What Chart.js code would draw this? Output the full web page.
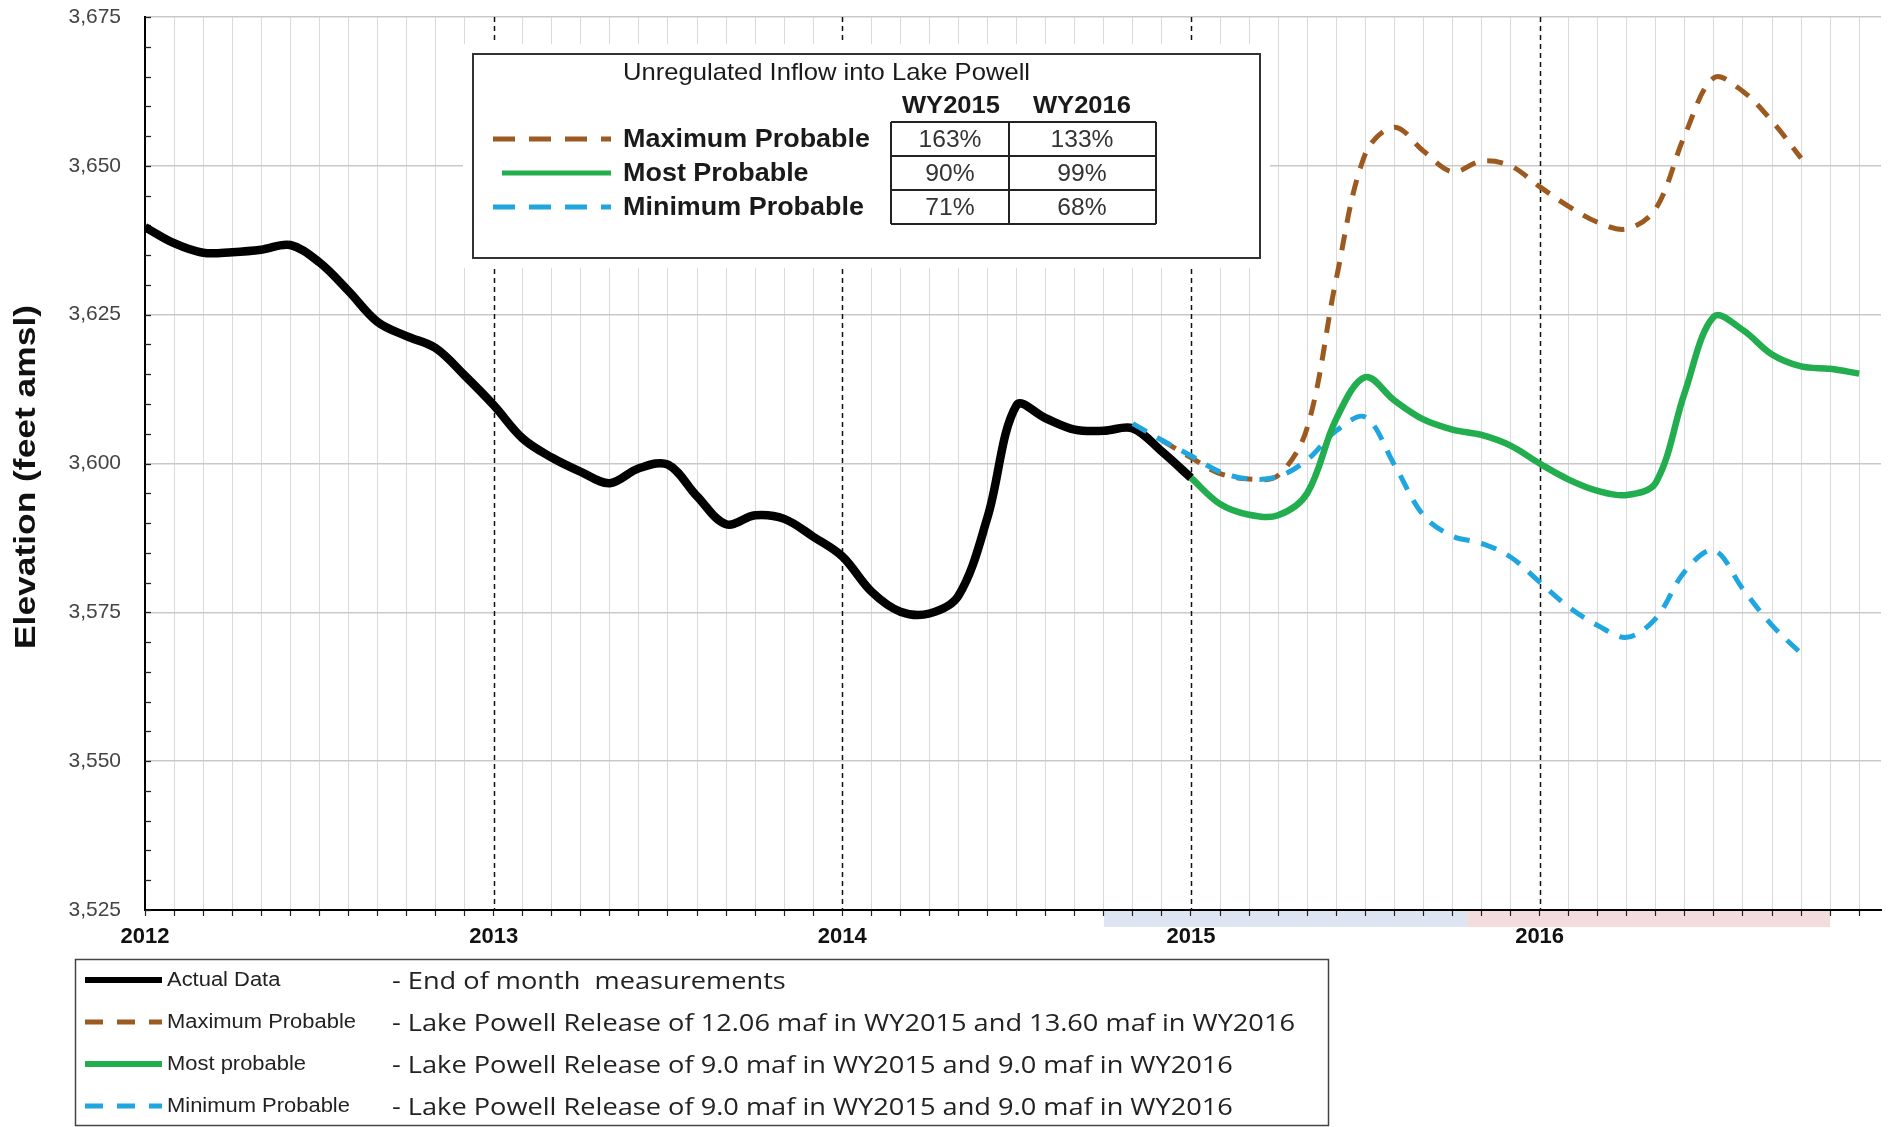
<!DOCTYPE html>
<html>
<head>
<meta charset="utf-8">
<title>Lake Powell End of Month Elevations</title>
<script src="https://cdn.jsdelivr.net/npm/chart.js@4.4.1/dist/chart.umd.min.js"></script>
<style>
    html, body { margin: 0; padding: 0; background: #fff; }
    #wrap { position: relative; width: 1894px; height: 1127px; }
</style>
</head>
<body>
<div id="wrap"><canvas id="elevationChart"></canvas></div>
<script>
/* ===================================
   LAKE POWELL ELEVATION CHART
   x values are months counted from Jan 2012
   =================================== */

// ===== DATA =====
const actualStart = 0;
const actualData = [
    3639.7, 3637.0, 3635.4, 3635.5, 3635.9, 3636.7, 3633.8, 3629.0, 3623.8, 3621.4, 3619.4, 3614.8,
    3609.8, 3604.2, 3601.0, 3598.6, 3596.7, 3599.2, 3599.8, 3594.5, 3589.8, 3591.3, 3590.7, 3587.7,
    3584.4, 3578.5, 3575.1, 3574.8, 3577.8, 3591.0, 3609.8, 3607.6, 3605.7, 3605.5, 3605.9, 3602.0,
    3597.6
];

const maxStart = 35;
const maxProbable = [
    3603.9, 3601.0, 3598.3, 3597.4, 3598.0, 3606.0, 3631.0, 3652.0, 3656.5, 3652.5, 3649.0, 3650.8,
    3650.0, 3646.5, 3643.2, 3640.5, 3639.4, 3642.8, 3655.2, 3664.8, 3662.5, 3657.5, 3651.3
];

const mostStart = 36;
const mostProbable = [
    3597.6, 3593.2, 3591.4, 3591.3, 3595.0, 3607.5, 3614.5, 3610.6, 3607.4, 3605.7, 3604.8, 3603.0,
    3600.0, 3597.3, 3595.4, 3594.7, 3596.8, 3612.0, 3624.7, 3622.4, 3618.3, 3616.3, 3615.9, 3615.1
];

const minStart = 34;
const minProbable = [
    3606.7, 3603.9, 3601.3, 3598.6, 3597.4, 3597.8, 3600.6, 3605.5, 3607.8, 3599.8, 3591.3, 3587.8,
    3586.6, 3584.3, 3580.1, 3575.9, 3572.8, 3570.8, 3574.0, 3581.9, 3585.4, 3578.9, 3572.8, 3568.1
];

const firstYear = 2012;
const yearMonths = [12, 24, 36, 48];          // dashed year lines
const waterYearFrom = [33, 45.5];             // WY2015, WY2016 bands under the axis
const waterYearTo = [45.5, 58];

const inflowTitle = 'Unregulated Inflow into Lake Powell';
const inflowHeaders = ['WY2015', 'WY2016'];
const inflowRows = ['Maximum Probable', 'Most Probable', 'Minimum Probable'];
const inflowWY2015 = ['163%', '90%', '71%'];
const inflowWY2016 = ['133%', '99%', '68%'];

const legendNames = ['Actual Data', 'Maximum Probable', 'Most probable', 'Minimum Probable'];
const legendNotes = [
    '- End of month  measurements',
    '- Lake Powell Release of 12.06 maf in WY2015 and 13.60 maf in WY2016',
    '- Lake Powell Release of 9.0 maf in WY2015 and 9.0 maf in WY2016',
    '- Lake Powell Release of 9.0 maf in WY2015 and 9.0 maf in WY2016'
];

// ===== STYLE =====
const COLORS = {
    actual: '#000000',
    max: '#9C5A20',
    most: '#22AD4E',
    min: '#1FA6DE',
    grid: '#c9c9c9',
    monthGrid: '#dadada'
};
const FONT = "'Liberation Sans', Arial, sans-serif";

function toPoints(start, values) {
    return values.map((v, i) => ({ x: start + i, y: v }));
}

// ===== TEXT HELPER (squeezes/stretches to the measured width) =====
function textScale(ctx, text, font, width) {
    ctx.save();
    ctx.font = font;
    const w = ctx.measureText(text).width;
    ctx.restore();
    return width / w;
}

function drawText(ctx, text, x, y, font, align, sx, color) {
    ctx.save();
    ctx.font = font;
    ctx.fillStyle = color || '#1a1a1a';
    ctx.textAlign = align;
    ctx.textBaseline = 'middle';
    ctx.translate(x, y);
    ctx.scale(sx || 1, 1);
    ctx.fillText(text, 0, 0);
    ctx.restore();
}

function sampleLine(ctx, x1, x2, y, color, width, dash) {
    ctx.save();
    ctx.strokeStyle = color;
    ctx.lineWidth = width;
    ctx.setLineDash(dash || []);
    ctx.beginPath();
    ctx.moveTo(x1, y);
    ctx.lineTo(x2, y);
    ctx.stroke();
    ctx.restore();
}

const rowStyles = [
    { color: COLORS.max, width: 5, dash: [22, 14] },
    { color: COLORS.most, width: 5, dash: [] },
    { color: COLORS.min, width: 5, dash: [22, 14] }
];

// ===== OVERLAY PLUGIN =====
const overlayPlugin = {
    id: 'overlay',
    beforeDraw(chart) {
        const ctx = chart.ctx;
        const x = chart.scales.x;
        const area = chart.chartArea;
        ctx.save();
        ctx.fillStyle = '#fff';
        ctx.fillRect(0, 0, chart.width, chart.height);
        // water year bands under the x axis
        const bandColors = ['#dce5f1', '#f2dcdc'];
        waterYearFrom.forEach((from, i) => {
            const x1 = x.getPixelForValue(from);
            const x2 = x.getPixelForValue(waterYearTo[i]);
            ctx.fillStyle = bandColors[i];
            ctx.fillRect(x1, area.bottom + 1, x2 - x1, 16);
        });
        ctx.restore();
    },
    beforeDatasetsDraw(chart) {
        const ctx = chart.ctx;
        const x = chart.scales.x;
        const y = chart.scales.y;
        const area = chart.chartArea;

        // dashed year lines
        ctx.save();
        ctx.strokeStyle = '#111';
        ctx.lineWidth = 1.5;
        ctx.setLineDash([5, 4]);
        yearMonths.forEach(m => {
            const px = Math.round(x.getPixelForValue(m)) + 0.5;
            ctx.beginPath();
            ctx.moveTo(px, area.top);
            ctx.lineTo(px, area.bottom);
            ctx.stroke();
        });
        ctx.restore();

        // minor y ticks inside the plot
        ctx.save();
        ctx.strokeStyle = '#222';
        ctx.lineWidth = 1.3;
        y.ticks.forEach(t => {
            const py = Math.round(y.getPixelForValue(t.value)) + 0.5;
            ctx.beginPath();
            ctx.moveTo(area.left, py);
            ctx.lineTo(area.left + 6, py);
            ctx.stroke();
        });
        ctx.restore();

        // inflow box
        ctx.save();
        ctx.fillStyle = '#fff';
        ctx.fillRect(463, 44, 807, 224);
        ctx.strokeStyle = '#333';
        ctx.lineWidth = 2;
        ctx.strokeRect(473, 54, 787, 204);

        drawText(ctx, inflowTitle, 623, 73, '24px ' + FONT, 'left',
            textScale(ctx, inflowTitle, '24px ' + FONT, 407));
        const hFont = 'bold 23px ' + FONT;
        const hScale = textScale(ctx, inflowHeaders[0], hFont, 98);
        drawText(ctx, inflowHeaders[0], 951, 107, hFont, 'center', hScale);
        drawText(ctx, inflowHeaders[1], 1082, 107, hFont, 'center', hScale);

        // table lines
        ctx.strokeStyle = '#222';
        ctx.lineWidth = 2;
        [891, 1009, 1156].forEach(px => {
            ctx.beginPath(); ctx.moveTo(px, 122); ctx.lineTo(px, 224); ctx.stroke();
        });
        [122, 156, 190, 224].forEach(py => {
            ctx.beginPath(); ctx.moveTo(891, py); ctx.lineTo(1156, py); ctx.stroke();
        });

        const lFont = 'bold 25px ' + FONT;
        const lScale = textScale(ctx, inflowRows[0], lFont, 247);
        const vFont = '24px ' + FONT;
        const vScale = textScale(ctx, inflowWY2015[0], vFont, 63);
        inflowRows.forEach((name, i) => {
            const py = 139 + 34 * i;
            const st = rowStyles[i];
            sampleLine(ctx, i === 1 ? 502 : 493, 611, py, st.color, st.width, st.dash);
            drawText(ctx, name, 623, py + 1, lFont, 'left', lScale);
            drawText(ctx, inflowWY2015[i], 950, py + 1, vFont, 'center', vScale, '#333');
            drawText(ctx, inflowWY2016[i], 1082, py + 1, vFont, 'center', vScale, '#333');
        });
        ctx.restore();
    },
    afterDraw(chart) {
        const ctx = chart.ctx;

        // y axis title
        const tFont = 'bold 29px ' + FONT;
        const title = 'Elevation (feet amsl)';
        ctx.save();
        ctx.translate(27, 477);
        ctx.rotate(-Math.PI / 2);
        drawText(ctx, title, 0, 0, tFont, 'center', textScale(ctx, title, tFont, 344), '#111');
        ctx.restore();

        // bottom legend
        ctx.save();
        ctx.strokeStyle = '#444';
        ctx.lineWidth = 1.5;
        ctx.strokeRect(75.5, 959.5, 1253, 166);
        const nFont = '20px ' + FONT;
        const nScale = textScale(ctx, legendNames[1], nFont, 189);
        const dFont = "24px 'Open Sans', 'Liberation Sans', sans-serif";
        const dScale = textScale(ctx, legendNotes[1], dFont, 903);
        const samples = [
            { color: COLORS.actual, width: 6, dash: [] },
            { color: COLORS.max, width: 5, dash: [18, 14] },
            { color: COLORS.most, width: 6, dash: [] },
            { color: COLORS.min, width: 5, dash: [18, 14] }
        ];
        legendNames.forEach((name, i) => {
            const py = 980 + 42 * i;
            const s = samples[i];
            sampleLine(ctx, 85, 162, py, s.color, s.width, s.dash);
            drawText(ctx, name, 167, py, nFont, 'left', nScale, '#222');
            drawText(ctx, legendNotes[i], 392, py + 2, dFont, 'left', dScale, '#222');
        });
        ctx.restore();
    }
};

// ===== CHART =====
const chart = new Chart(document.getElementById('elevationChart'), {
    type: 'line',
    data: {
        datasets: [
            {
                label: 'Most Probable',
                data: toPoints(mostStart, mostProbable),
                borderColor: COLORS.most,
                borderWidth: 6.5
            },
            {
                label: 'Minimum Probable',
                data: toPoints(minStart, minProbable),
                borderColor: COLORS.min,
                borderWidth: 5,
                borderDash: [16, 12]
            },
            {
                label: 'Maximum Probable',
                data: toPoints(maxStart, maxProbable),
                borderColor: COLORS.max,
                borderWidth: 5,
                borderDash: [16, 12]
            },
            {
                label: 'Actual Data',
                data: toPoints(actualStart, actualData),
                borderColor: COLORS.actual,
                borderWidth: 8.5
            }
        ]
    },
    options: {
        responsive: true,
        maintainAspectRatio: false,
        animation: false,
        layout: {
            padding: { top: 17, right: 13, bottom: 0, left: 0 }
        },
        elements: {
            point: { radius: 0 },
            line: { tension: 0.35, fill: false, borderJoinStyle: 'round' }
        },
        plugins: {
            legend: { display: false },
            tooltip: { enabled: false }
        },
        scales: {
            x: {
                type: 'linear',
                min: 0,
                max: 59.75,
                afterFit: function(scale) { scale.height = 217; },
                border: { display: true, color: '#000', width: 2 },
                grid: {
                    color: function(c) {
                        return c.tick && c.tick.value % 12 === 0 ? 'rgba(0,0,0,0)' : COLORS.monthGrid;
                    },
                    lineWidth: 1,
                    drawTicks: true,
                    tickLength: 6,
                    tickColor: '#222',
                    tickWidth: 1.2
                },
                ticks: {
                    stepSize: 1,
                    autoSkip: false,
                    maxRotation: 0,
                    includeBounds: false,
                    padding: 8,
                    color: '#111',
                    font: { family: FONT, size: 22, weight: 'bold' },
                    callback: function(value) {
                        return value % 12 === 0 ? String(firstYear + value / 12) : '';
                    }
                }
            },
            y: {
                min: 3525,
                max: 3675,
                afterFit: function(scale) {
                    scale.width = 145;
                    scale.paddingTop = 0;
                    scale.paddingBottom = 0;
                },
                border: { display: true, color: '#000', width: 2 },
                grid: {
                    color: function(c) {
                        return c.tick && c.tick.value % 25 === 0 ? COLORS.grid : 'rgba(0,0,0,0)';
                    },
                    lineWidth: 1.5,
                    drawTicks: false
                },
                ticks: {
                    stepSize: 5,
                    autoSkip: false,
                    padding: 24,
                    color: '#444',
                    font: { family: FONT, size: 21 },
                    callback: function(value) {
                        return value % 25 === 0 ? value.toLocaleString('en-US') : '';
                    }
                }
            }
        }
    },
    plugins: [overlayPlugin]
});
</script>
</body>
</html>
